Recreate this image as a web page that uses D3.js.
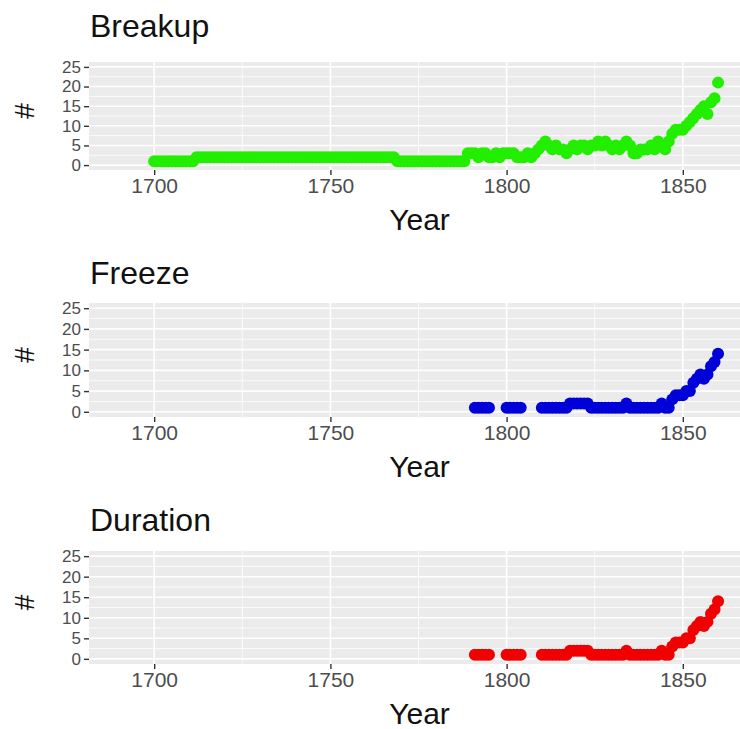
<!DOCTYPE html>
<html><head><meta charset="utf-8">
<script src="https://d3js.org/d3.v7.min.js"></script>
<style>body{margin:0;background:#fff}svg{display:block}</style>
</head><body><svg id="c" width="740" height="729"></svg>
<script>
// ---- data ----
const xTicks = [1700, 1750, 1800, 1850];
const xMinor = [1725, 1775, 1825];
const yTicks = [0, 5, 10, 15, 20, 25];
const yMinor = [2.5, 7.5, 12.5, 17.5, 22.5];

const breakupYears = d3.range(1700, 1861);
const breakupValues = [
  1,1,1,1,1,1,1,1,1,1,1,1,
  2,2,2,2,2,2,2,2,2,2,2,2,2,2,2,2,2,2,2,2,2,2,2,2,2,2,2,2,2,2,2,2,2,2,2,2,2,2,2,2,2,2,2,2,2,2,2,2,2,2,2,2,2,2,2,2,2,
  1,1,1,1,1,1,1,1,1,1,1,1,1,1,1,1,1,1,1,1,
  3,3,3,2,3,3,2,2,3,2,
  3,3,3,3,2,2,2,3,2,3,
  4,5,6,5,4,5,4,4,3,4,
  5,4,5,5,4,5,5,6,5,6,
  5,4,5,4,5,6,5,3,3,4,
  4,4,5,4,6,5,4,6,8,9,
  9,9,10,11,12,13,14,15,13,16,
  17,21
];

const freezeYears = [
  1791,1792,1793,1794,1795,
  1800,1801,1802,1803,1804,
  1810,1811,1812,1813,1814,1815,1816,1817,1818,1819,1820,1821,1822,1823,1824,1825,
  1826,1827,1828,1829,1830,1831,1832,1833,1834,1835,1836,1837,1838,1839,1840,1841,
  1842,1843,1844,1845,1846,1847,1848,1849,1850,1851,1852,1853,1854,1855,1856,1857,
  1858,1859,1860
];
const freezeValues = [
  1,1,1,1,1,
  1,1,1,1,1,
  1,1,1,1,1,1,1,1,2,2,2,2,2,2,1,1,
  1,1,1,1,1,1,1,1,2,1,1,1,1,1,1,1,
  1,1,2,1,1,3,4,4,4,5,5,7,8,9,8,9,
  11,12,14
];

const durationYears = freezeYears.slice();
const durationValues = [
  1,1,1,1,1,
  1,1,1,1,1,
  1,1,1,1,1,1,1,1,2,2,2,2,2,2,1,1,
  1,1,1,1,1,1,1,1,2,1,1,1,1,1,1,1,
  1,1,2,1,1,3,4,4,4,5,5,7,8,9,8,9,
  11,12,14
];

const panels = [
  {title: "Breakup",  years: breakupYears,  values: breakupValues,  color: "#22ee00", top: 62,  bottom: 170, titleY: 37},
  {title: "Freeze",   years: freezeYears,   values: freezeValues,   color: "#0000d8", top: 303, bottom: 417, titleY: 284},
  {title: "Duration", years: durationYears, values: durationValues, color: "#f00000", top: 551, bottom: 664, titleY: 531}
];

// ---- drawing ----
const svg = d3.select("#c");
const left = 89, right = 748;
const font = "'Liberation Sans', Arial, Helvetica, sans-serif";

const x = d3.scaleLinear().domain([1681.5, 1868.5]).range([left, right]);

panels.forEach(p => {
  const y = d3.scaleLinear().domain([-1.25, 26.25]).range([p.bottom, p.top]);
  const g = svg.append("g");

  g.append("rect").attr("x", left).attr("y", p.top)
    .attr("width", right - left).attr("height", p.bottom - p.top)
    .attr("fill", "#ebebeb");

  // minor grid
  g.selectAll(".hmin").data(yMinor).enter().append("line")
    .attr("x1", left).attr("x2", right)
    .attr("y1", d => y(d)).attr("y2", d => y(d))
    .attr("stroke", "#fff").attr("stroke-width", 0.8);
  g.selectAll(".vmin").data(xMinor).enter().append("line")
    .attr("y1", p.top).attr("y2", p.bottom)
    .attr("x1", d => x(d)).attr("x2", d => x(d))
    .attr("stroke", "#fff").attr("stroke-width", 0.8);
  // major grid
  g.selectAll(".hmaj").data(yTicks).enter().append("line")
    .attr("x1", left).attr("x2", right)
    .attr("y1", d => y(d)).attr("y2", d => y(d))
    .attr("stroke", "#fff").attr("stroke-width", 1.6);
  g.selectAll(".vmaj").data(xTicks).enter().append("line")
    .attr("y1", p.top).attr("y2", p.bottom)
    .attr("x1", d => x(d)).attr("x2", d => x(d))
    .attr("stroke", "#fff").attr("stroke-width", 1.6);

  // axes
  const ax = g.append("g").attr("transform", `translate(0,${p.bottom})`)
    .call(d3.axisBottom(x).tickValues(xTicks).tickFormat(d3.format("d")).tickSize(5).tickPadding(3));
  const ay = g.append("g").attr("transform", `translate(${left},0)`)
    .call(d3.axisLeft(y).tickValues(yTicks).tickSize(5).tickPadding(3));
  [ax, ay].forEach(a => {
    a.select(".domain").remove();
    a.selectAll(".tick line").attr("stroke", "#333").attr("stroke-width", 1.4);
  });
  ax.selectAll(".tick text").attr("fill", "#4d4d4d")
    .style("font-family", font).style("font-size", "21px");
  ay.selectAll(".tick text").attr("fill", "#4d4d4d")
    .style("font-family", font).style("font-size", "17px");

  // points
  const data = p.years.map((yr, i) => ({yr, v: p.values[i]}));
  g.selectAll("circle").data(data).enter().append("circle")
    .attr("cx", d => x(d.yr)).attr("cy", d => y(d.v)).attr("r", 6)
    .attr("fill", p.color);

  // titles
  g.append("text").attr("x", left + 1).attr("y", p.titleY)
    .text(p.title).attr("fill", "#111")
    .style("font-family", font).style("font-size", "32px");
  g.append("text").attr("x", (left + right) / 2 + 1).attr("y", p.bottom + 60)
    .attr("text-anchor", "middle").text("Year").attr("fill", "#111")
    .style("font-family", font).style("font-size", "30px");
  g.append("text")
    .attr("transform", `translate(34,${(p.top + p.bottom) / 2 - 5}) rotate(-90)`)
    .attr("text-anchor", "middle").text("#").attr("fill", "#111")
    .style("font-family", font).style("font-size", "28px");
});
</script></body></html>
